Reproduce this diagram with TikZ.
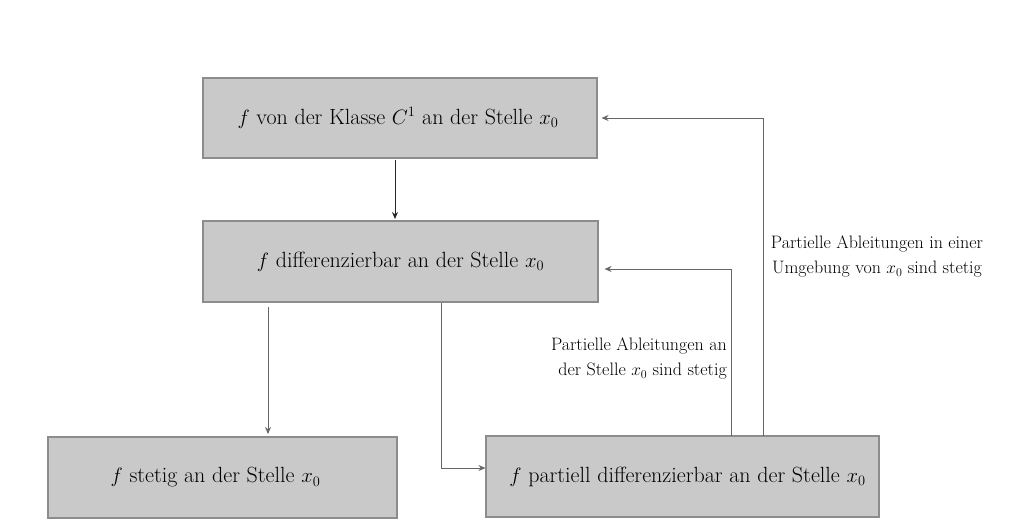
\documentclass[tikz,border=0pt]{standalone}
\usetikzlibrary{arrows.meta}
\begin{document}
\begin{tikzpicture}[x=1pt,y=-1pt,
  box/.style={draw=black!45,line width=1.1pt,fill=black!21,inner sep=0pt,
    font=\fontsize{22}{26}\selectfont},
  conn/.style={line width=0.9pt,draw=black!60,-{Stealth[length=7pt,width=6pt]}},
  lab/.style={font=\fontsize{18}{25}\selectfont,inner sep=0pt}]
\useasboundingbox (0,0) rectangle (1024,531);
\node[box,minimum width=394pt,minimum height=80pt] (c1) at (400,118) {\hspace*{-4pt}$f$ von der Klasse $C^1$ an der Stelle $x_0$};
\node[box,minimum width=395pt,minimum height=81pt] (dif) at (400.5,261.5) {$f$ differenzierbar an der Stelle $x_0$};
\node[box,minimum width=349pt,minimum height=81pt] (st) at (222.5,477.5) {$f$ stetig an der Stelle $x_0$\hspace*{14pt}};
\node[box,minimum width=393pt,minimum height=81pt] (pd) at (682.5,476.5) {\hspace*{10pt}$f$ partiell differenzierbar an der Stelle $x_0$};
\coordinate (a1) at (395,160);
\coordinate (a2) at (395,219);
\draw[conn,draw=black!85] (a1) -- (a2);
\coordinate (b1) at (268,307);
\draw[conn] (b1) -- (268,434) coordinate (b2);
\coordinate (d1) at (441,303);
\draw[conn] (d1) |- (pd.west|-0,468);
\coordinate (e1) at (731,436);
\draw[conn] (e1) |- ([xshift=6pt]dif.east|-0,269);
\coordinate (f1) at (763,436);
\draw[conn] (f1) |- ([xshift=4pt]c1.east|-0,118);
\node[lab,align=center] (l1) at (877,256.5) {Partielle Ableitungen in einer\\Umgebung von $x_0$ sind stetig};
\node[lab,align=right,anchor=east] (l2) at (727,358.5) {Partielle Ableitungen an\\der Stelle $x_0$ sind stetig};
\end{tikzpicture}
\end{document}
